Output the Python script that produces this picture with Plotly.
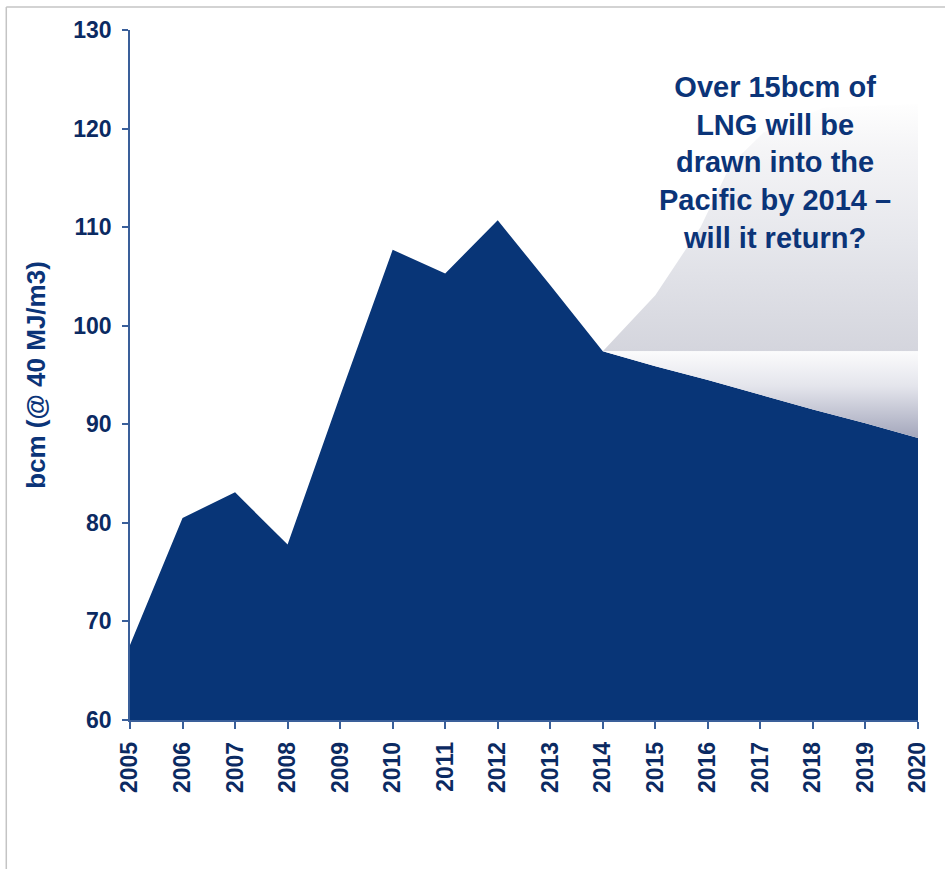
import plotly.graph_objects as go

# Data
years = [2005, 2006, 2007, 2008, 2009, 2010, 2011, 2012, 2013, 2014,
         2015, 2016, 2017, 2018, 2019, 2020]
bcm = [67.6, 80.5, 83.1, 77.8, 92.9, 107.7, 105.3, 110.7, 104.1, 97.4,
       95.9, 94.5, 93.0, 91.5, 90.1, 88.6]

# Shaded "could be" region above the 2014 level
upper_years = [2014.0, 2015.0, 2015.3, 2015.86, 2016.43, 2017.06, 2018.2, 2020.0]
upper_vals = [97.4, 103.1, 105.5, 110.0, 116.3, 119.6, 122.1, 122.5]
level_2014 = 97.4

y_ticks = [60, 70, 80, 90, 100, 110, 120, 130]

NAVY = "#083577"
TXT = "#0b2a62"
FONT = "Liberation Sans, Arial, sans-serif"

fig = go.Figure()

# Main area
fig.add_trace(go.Scatter(
    x=years, y=bcm, mode="lines", fill="tozeroy",
    line=dict(width=0, color=NAVY), fillcolor=NAVY, hoverinfo="skip",
    showlegend=False))

# Upper gradient region
ux = upper_years + [upper_years[-1], upper_years[0]]
uy = upper_vals + [level_2014, level_2014]
fig.add_trace(go.Scatter(
    x=ux, y=uy, mode="lines", fill="toself",
    line=dict(width=0), fillcolor="#e6e7ec",
    fillgradient=dict(type="vertical",
                      colorscale=[[0, "#d4d5dd"], [0.45, "#e6e7ec"], [0.8, "#f4f4f6"], [1, "#fefefe"]],
                      start=level_2014, stop=122.5),
    hoverinfo="skip", showlegend=False))

# Band between 2014 level and declining forecast
i14 = years.index(2014)
bx = years[i14:] + [years[-1], years[i14]]
by = bcm[i14:] + [level_2014, level_2014]
fig.add_trace(go.Scatter(
    x=bx, y=by, mode="lines", fill="toself",
    line=dict(width=0), fillcolor="#cfd0da",
    fillgradient=dict(type="vertical",
                      colorscale=[[0, "#a3a6bb"], [0.6, "#e4e5ec"], [1, "#fbfbfc"]],
                      start=bcm[-1], stop=level_2014),
    hoverinfo="skip", showlegend=False))

fig.add_annotation(
    x=2017.28, y=126.0, xref="x", yref="y",
    text="Over 15bcm of<br>LNG will be<br>drawn into the<br>Pacific by 2014 –<br>will it return?",
    showarrow=False, yanchor="top", xanchor="center", align="center",
    font=dict(family=FONT, size=29, color="#0b3478", weight="bold"))

# Frame lines (top and left)
fig.add_shape(type="line", xref="paper", yref="paper",
              x0=-0.157, x1=1.1, y0=1.0333, y1=1.0333,
              line=dict(color="#c4c4c4", width=1.5))
fig.add_shape(type="line", xref="paper", yref="paper",
              x0=-0.157, x1=-0.157, y0=1.0333, y1=-0.3,
              line=dict(color="#c4c4c4", width=1.5))

fig.update_layout(
    width=945, height=869,
    margin=dict(l=130, r=27, t=30, b=149),
    paper_bgcolor="white", plot_bgcolor="white",
    xaxis=dict(range=[2005, 2020], tickmode="array", tickvals=years,
               ticktext=[str(y) for y in years], tickangle=-90,
               showgrid=False, zeroline=False, showline=True,
               linecolor="#3a5f9a", linewidth=1.5,
               ticks="outside", ticklen=7, tickcolor="#3a5f9a", tickwidth=1.5,
               ticklabelstandoff=4,
               tickfont=dict(family=FONT, size=23, color=TXT, weight="bold")),
    yaxis=dict(range=[60, 130], tickmode="array", tickvals=y_ticks,
               showgrid=False, zeroline=False, showline=True,
               linecolor="#3a5f9a", linewidth=1.5,
               ticks="outside", ticklen=6, tickcolor="#3a5f9a", tickwidth=1.5,
               ticklabelstandoff=6,
               tickfont=dict(family=FONT, size=23, color=TXT, weight="bold"),
               title=dict(text="bcm (@ 40 MJ/m3)", standoff=20,
                          font=dict(family=FONT, size=26, color="#0b3478", weight="bold"))),
)

fig.write_html("out.html")
